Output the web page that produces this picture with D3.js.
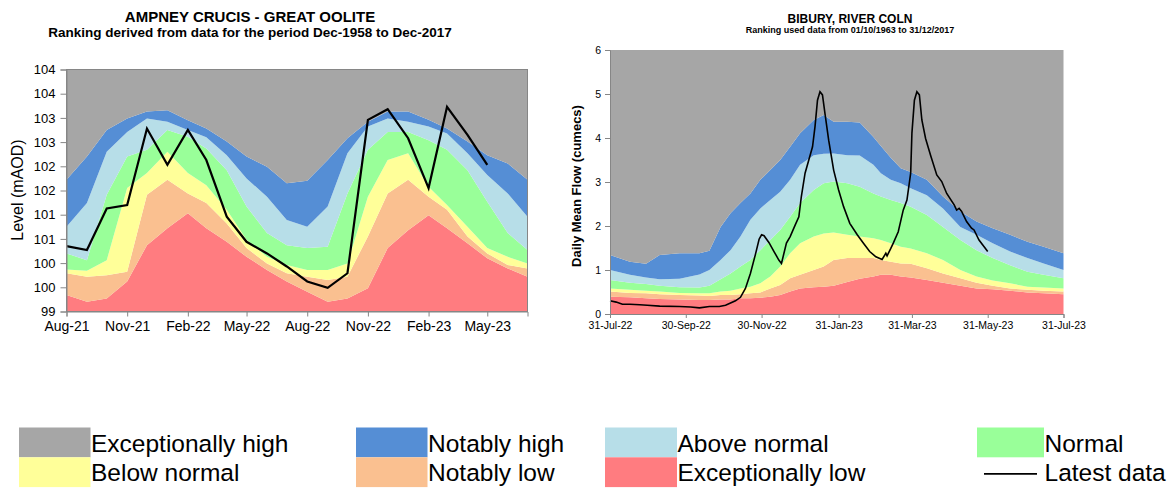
<!DOCTYPE html>
<html>
<head>
<meta charset="utf-8">
<script src="https://cdn.jsdelivr.net/npm/d3@7"></script>
<style>
  body { margin: 0; background: #fff; }
  text { font-family: "Liberation Sans", Arial, sans-serif; }
</style>
</head>
<body>
<div id="chart"></div>
<script>
// ---- Left chart: Ampney Crucis, monthly levels (mAOD)
var leftMonths = ["2021-08","2021-09","2021-10","2021-11","2021-12","2022-01","2022-02","2022-03",
  "2022-04","2022-05","2022-06","2022-07","2022-08","2022-09","2022-10","2022-11","2022-12",
  "2023-01","2023-02","2023-03","2023-04","2023-05","2023-06","2023-07"];
var leftExLow   = [99.34, 99.20, 99.27, 99.62, 100.37, 100.72, 101.03, 100.72, 100.44, 100.13, 99.86, 99.62,
  99.41, 99.20, 99.27, 99.48, 100.31, 100.68, 100.99, 100.72, 100.41, 100.10, 99.89, 99.72];
var leftNotLow  = [99.79, 99.72, 99.75, 99.82, 101.41, 101.72, 101.44, 101.24, 100.82, 100.31, 99.99, 99.79,
  99.72, 99.65, 99.72, 100.55, 101.44, 101.72, 101.37, 101.10, 100.55, 100.20, 99.96, 99.89];
var leftBelow   = [99.87, 99.84, 100.06, 101.55, 101.86, 102.30, 101.86, 101.61, 101.10, 100.48, 100.13, 99.96,
  99.86, 99.86, 99.99, 101.37, 102.13, 102.27, 101.58, 101.20, 100.75, 100.31, 100.13, 99.99];
var leftNormal  = [100.20, 100.06, 101.41, 102.20, 102.34, 102.75, 102.61, 102.37, 101.92, 101.17, 100.62, 100.37,
  100.31, 100.34, 101.44, 102.34, 102.71, 102.71, 102.54, 102.34, 101.92, 101.27, 100.62, 100.27];
var leftAbove   = [100.75, 101.24, 102.30, 102.71, 102.99, 102.92, 102.75, 102.60, 102.23, 101.75, 101.37, 100.89,
  100.75, 101.17, 102.27, 102.82, 102.99, 102.92, 102.82, 102.68, 102.27, 101.82, 101.44, 100.96];
var leftNotHigh = [101.72, 102.20, 102.75, 102.99, 103.13, 103.16, 102.95, 102.78, 102.51, 102.20, 101.99, 101.65,
  101.70, 102.13, 102.58, 102.92, 103.13, 103.13, 102.96, 102.78, 102.51, 102.23, 102.06, 101.72];
var leftLatest  = [100.35, 100.27, 101.13, 101.20, 102.78, 102.03, 102.75, 102.13, 100.96, 100.44, 100.20, 99.93,
  99.62, 99.49, 99.79, 102.96, 103.18, 102.58, 101.55, 103.23, 102.65, 102.03];
var leftXTicks = ["2021-08","2021-11","2022-02","2022-05","2022-08","2022-11","2023-02","2023-05"];
var leftYTicks = [99, 99.5, 100, 100.5, 101, 101.5, 102, 102.5, 103, 103.5, 104];
var leftYLabels = ["99","100","100","101","101","102","102","103","103","104","104"];

// ---- Right chart: Bibury, daily mean flow (cumecs)
var rightDates = ["2022-07-31","2022-08-16","2022-08-29","2022-09-09","2022-09-25","2022-10-11","2022-10-19",
  "2022-10-28","2022-11-05","2022-11-13","2022-11-21","2022-11-29","2022-12-07","2022-12-15","2022-12-23",
  "2022-12-31","2023-01-11","2023-01-19","2023-01-27","2023-02-07","2023-02-17","2023-02-28","2023-03-06",
  "2023-03-14","2023-03-22","2023-03-30","2023-04-12","2023-04-25","2023-05-09","2023-05-22","2023-06-04",
  "2023-06-18","2023-07-02","2023-07-15","2023-07-31"];
var rightExLow   = [0.39, 0.38, 0.36, 0.34, 0.33, 0.32, 0.32, 0.33, 0.33, 0.36, 0.36, 0.37, 0.39, 0.43, 0.51,
  0.58, 0.61, 0.62, 0.64, 0.73, 0.80, 0.85, 0.89, 0.89, 0.85, 0.83, 0.77, 0.71, 0.64, 0.58, 0.56, 0.53, 0.49, 0.47, 0.45];
var rightNotLow  = [0.51, 0.48, 0.47, 0.45, 0.43, 0.42, 0.41, 0.43, 0.43, 0.45, 0.47, 0.49, 0.58, 0.66, 0.81,
  0.89, 1.00, 1.08, 1.23, 1.27, 1.27, 1.27, 1.23, 1.19, 1.15, 1.14, 1.04, 0.92, 0.81, 0.71, 0.64, 0.58, 0.55, 0.53, 0.51];
var rightBelow   = [0.58, 0.55, 0.53, 0.51, 0.48, 0.47, 0.47, 0.51, 0.53, 0.58, 0.62, 0.70, 0.85, 1.08, 1.38,
  1.61, 1.76, 1.83, 1.85, 1.80, 1.76, 1.72, 1.68, 1.61, 1.53, 1.49, 1.38, 1.23, 1.00, 0.85, 0.76, 0.70, 0.62, 0.60, 0.58];
var rightNormal  = [0.77, 0.71, 0.68, 0.64, 0.61, 0.60, 0.64, 0.79, 0.92, 1.08, 1.23, 1.45, 1.68, 1.91, 2.21,
  2.52, 2.82, 2.97, 3.01, 2.97, 2.89, 2.74, 2.67, 2.59, 2.52, 2.44, 2.25, 1.98, 1.68, 1.45, 1.27, 1.11, 0.96, 0.89, 0.81];
var rightAbove   = [1.00, 0.89, 0.83, 0.79, 0.80, 0.90, 1.00, 1.23, 1.45, 1.76, 2.14, 2.40, 2.59, 2.78, 3.05,
  3.39, 3.61, 3.64, 3.65, 3.61, 3.60, 3.39, 3.20, 3.05, 2.97, 2.86, 2.70, 2.40, 1.98, 1.80, 1.61, 1.42, 1.27, 1.15, 1.00];
var rightNotHigh = [1.34, 1.19, 1.14, 1.34, 1.38, 1.38, 1.44, 1.98, 2.29, 2.52, 2.74, 3.05, 3.27, 3.50, 3.80,
  4.11, 4.41, 4.52, 4.37, 4.37, 4.35, 4.02, 3.82, 3.55, 3.31, 3.23, 3.05, 2.67, 2.33, 2.10, 1.95, 1.80, 1.64, 1.53, 1.38];
var rightLineDates = ["2022-07-31","2022-08-05","2022-08-10","2022-08-16","2022-08-24","2022-08-30","2022-09-09",
  "2022-09-25","2022-10-04","2022-10-11","2022-10-19","2022-10-27","2022-11-01","2022-11-05","2022-11-09",
  "2022-11-13","2022-11-17","2022-11-21","2022-11-25","2022-11-28","2022-11-30","2022-12-02","2022-12-06",
  "2022-12-10","2022-12-14","2022-12-16","2022-12-20","2022-12-23","2022-12-27","2022-12-30","2023-01-01",
  "2023-01-04","2023-01-07","2023-01-10","2023-01-12","2023-01-14","2023-01-16","2023-01-18","2023-01-20",
  "2023-01-23","2023-01-27","2023-01-31","2023-02-04","2023-02-09","2023-02-15","2023-02-20","2023-02-25",
  "2023-03-02","2023-03-07","2023-03-10","2023-03-11","2023-03-14","2023-03-16","2023-03-20","2023-03-24",
  "2023-03-27","2023-03-30","2023-03-31","2023-04-02","2023-04-04","2023-04-06","2023-04-08","2023-04-11",
  "2023-04-15","2023-04-20","2023-04-24","2023-04-28","2023-05-04","2023-05-06","2023-05-08","2023-05-10",
  "2023-05-14","2023-05-18","2023-05-20","2023-05-24","2023-05-31"];
var rightLineValues = [0.30, 0.27, 0.22, 0.22, 0.21, 0.20, 0.18,
  0.17, 0.16, 0.14, 0.17, 0.17, 0.20, 0.25, 0.30,
  0.38, 0.58, 0.92, 1.35, 1.70, 1.80, 1.78, 1.62,
  1.42, 1.22, 1.15, 1.61, 1.76, 2.02, 2.21, 2.67,
  3.20, 3.50, 3.80, 4.26, 4.86, 5.05, 4.98, 4.56,
  3.95, 3.27, 2.82, 2.44, 2.06, 1.80, 1.61, 1.42,
  1.30, 1.24, 1.38, 1.32, 1.49, 1.61, 1.87, 2.36,
  2.59, 3.20, 4.11, 4.86, 5.05, 4.98, 4.41, 3.99,
  3.61, 3.16, 3.01, 2.74, 2.48, 2.36, 2.40, 2.33,
  2.10, 1.95, 1.91, 1.68, 1.42];
var rightXTicks = ["2022-07-31","2022-09-30","2022-11-30","2023-01-31","2023-03-31","2023-05-31","2023-07-31"];
var rightYTicks = [0, 1, 2, 3, 4, 5, 6];

// ---- Legend
var legendLabels = ["Exceptionally high","Notably high","Above normal","Normal",
  "Below normal","Notably low","Exceptionally low","Latest data"];

// bottom to top band colours
var bandColors = ["#ff7c80","#fac090","#ffff99","#99ff99","#b7dee8","#558ed5","#a6a6a6"];
var legendColors = ["#a6a6a6","#558ed5","#b7dee8","#99ff99","#ffff99","#fac090","#ff7c80",null];

var svg = d3.select("#chart").append("svg")
  .attr("width", 1176).attr("height", 489);

var parseMonth = d3.timeParse("%Y-%m");
var parseDay = d3.timeParse("%Y-%m-%d");

function drawBands(g, dates, bounds, x, y, yMin, yMax) {
  var levels = [dates.map(() => yMin)].concat(bounds).concat([dates.map(() => yMax)]);
  for (var i = 0; i < 7; i++) {
    var lo = levels[i], hi = levels[i + 1];
    var area = d3.area()
      .x((d, j) => x(dates[j]))
      .y0((d, j) => y(lo[j]))
      .y1((d, j) => y(hi[j]));
    g.append("path").datum(dates).attr("d", area).attr("fill", bandColors[i]);
  }
}

function styleAxis(g, size) {
  g.selectAll("path.domain").attr("stroke", "#868686");
  g.selectAll(".tick line").attr("stroke", "#868686");
  g.selectAll("text").attr("font-family", "'Liberation Sans', Arial, sans-serif")
    .attr("font-size", size).attr("fill", "#000");
}

// ================= LEFT CHART =================
var L = {left: 66.5, top: 69.5, right: 527.5, bottom: 311.5};
var lDates = leftMonths.map(parseMonth);
var xL = d3.scaleTime().domain([lDates[0], lDates[lDates.length - 1]]).range([L.left, L.right]);
var yL = d3.scaleLinear().domain([99, 104]).range([L.bottom, L.top]);

var gL = svg.append("g");
drawBands(gL, lDates, [leftExLow, leftNotLow, leftBelow, leftNormal, leftAbove, leftNotHigh], xL, yL, 99, 104);

gL.append("path")
  .datum(leftLatest)
  .attr("d", d3.line().x((d, i) => xL(lDates[i])).y(d => yL(d)))
  .attr("fill", "none").attr("stroke", "#000").attr("stroke-width", 2.2)
  .attr("stroke-linejoin", "miter");

gL.append("rect")
  .attr("x", L.left).attr("y", L.top)
  .attr("width", L.right - L.left).attr("height", L.bottom - L.top)
  .attr("fill", "none").attr("stroke", "#868686");

var yAxisL = gL.append("g")
  .attr("transform", `translate(${L.left},0)`)
  .call(d3.axisLeft(yL).tickValues(leftYTicks).tickSize(6).tickPadding(5)
    .tickFormat((d, i) => leftYLabels[i]));
styleAxis(yAxisL, 13);

var xAxisL = gL.append("g")
  .attr("transform", `translate(0,${L.bottom})`)
  .call(d3.axisBottom(xL).tickValues(leftXTicks.map(parseMonth)).tickSize(5).tickPadding(5)
    .tickFormat(d3.timeFormat("%b-%y")));
styleAxis(xAxisL, 14);

gL.append("text")
  .attr("transform", "translate(23,190) rotate(-90)")
  .attr("text-anchor", "middle")
  .attr("font-size", 16)
  .text("Level (mAOD)");

gL.append("text")
  .attr("x", 250).attr("y", 21.5)
  .attr("text-anchor", "middle").attr("font-weight", "bold").attr("font-size", 15)
  .text("AMPNEY CRUCIS - GREAT OOLITE");
gL.append("text")
  .attr("x", 250).attr("y", 37)
  .attr("text-anchor", "middle").attr("font-weight", "bold").attr("font-size", 13.5)
  .text("Ranking derived from data for the period Dec-1958 to Dec-2017");

// ================= RIGHT CHART =================
var R = {left: 610, top: 50, right: 1063.5, bottom: 314};
var rDates = rightDates.map(parseDay);
var xR = d3.scaleTime().domain([parseDay("2022-07-31"), parseDay("2023-07-31")]).range([R.left, R.right]);
var yR = d3.scaleLinear().domain([0, 6]).range([R.bottom, R.top]);

var gR = svg.append("g");
drawBands(gR, rDates, [rightExLow, rightNotLow, rightBelow, rightNormal, rightAbove, rightNotHigh], xR, yR, 0, 6);

var rLineDates = rightLineDates.map(parseDay);
gR.append("path")
  .datum(rightLineValues)
  .attr("d", d3.line().x((d, i) => xR(rLineDates[i])).y(d => yR(d)))
  .attr("fill", "none").attr("stroke", "#000").attr("stroke-width", 1.6);

var yAxisR = gR.append("g")
  .attr("transform", `translate(${R.left},0)`)
  .call(d3.axisLeft(yR).tickValues(rightYTicks).tickSize(5).tickPadding(4)
    .tickFormat(d3.format("d")));
styleAxis(yAxisR, 10.5);

var xAxisR = gR.append("g")
  .attr("transform", `translate(0,${R.bottom})`)
  .call(d3.axisBottom(xR).tickValues(rightXTicks.map(parseDay)).tickSize(4).tickPadding(4)
    .tickFormat(d3.timeFormat("%d-%b-%y")));
styleAxis(xAxisR, 10.5);

gR.append("text")
  .attr("transform", "translate(581,186) rotate(-90)")
  .attr("text-anchor", "middle")
  .attr("font-size", 13).attr("font-weight", "bold")
  .text("Daily Mean Flow (cumecs)");

gR.append("text")
  .attr("x", 850).attr("y", 22.5)
  .attr("text-anchor", "middle").attr("font-weight", "bold").attr("font-size", 12)
  .text("BIBURY, RIVER COLN");
gR.append("text")
  .attr("x", 850).attr("y", 33)
  .attr("text-anchor", "middle").attr("font-weight", "bold").attr("font-size", 9)
  .text("Ranking used data from 01/10/1963 to 31/12/2017");

// ================= LEGEND =================
var colX = [19, 356, 605, 977];
var colW = [71.5, 71.5, 72, 67];
var rowY = [427.5, 457.3];
var rowH = 29.8;

var legend = svg.append("g");
legendLabels.forEach(function(label, i) {
  var c = i % 4, r = Math.floor(i / 4);
  if (legendColors[i]) {
    legend.append("rect")
      .attr("x", colX[c]).attr("y", rowY[r])
      .attr("width", colW[c]).attr("height", rowH)
      .attr("fill", legendColors[i]);
  } else {
    legend.append("line")
      .attr("x1", 984).attr("x2", 1037)
      .attr("y1", rowY[r] + 16.5).attr("y2", rowY[r] + 16.5)
      .attr("stroke", "#000").attr("stroke-width", 1.8);
  }
  legend.append("text")
    .attr("x", colX[c] + colW[c] + 0.5)
    .attr("y", rowY[r] + 24)
    .attr("font-size", 24.5)
    .attr("fill", "#000")
    .text(label);
});
</script>
</body>
</html>
